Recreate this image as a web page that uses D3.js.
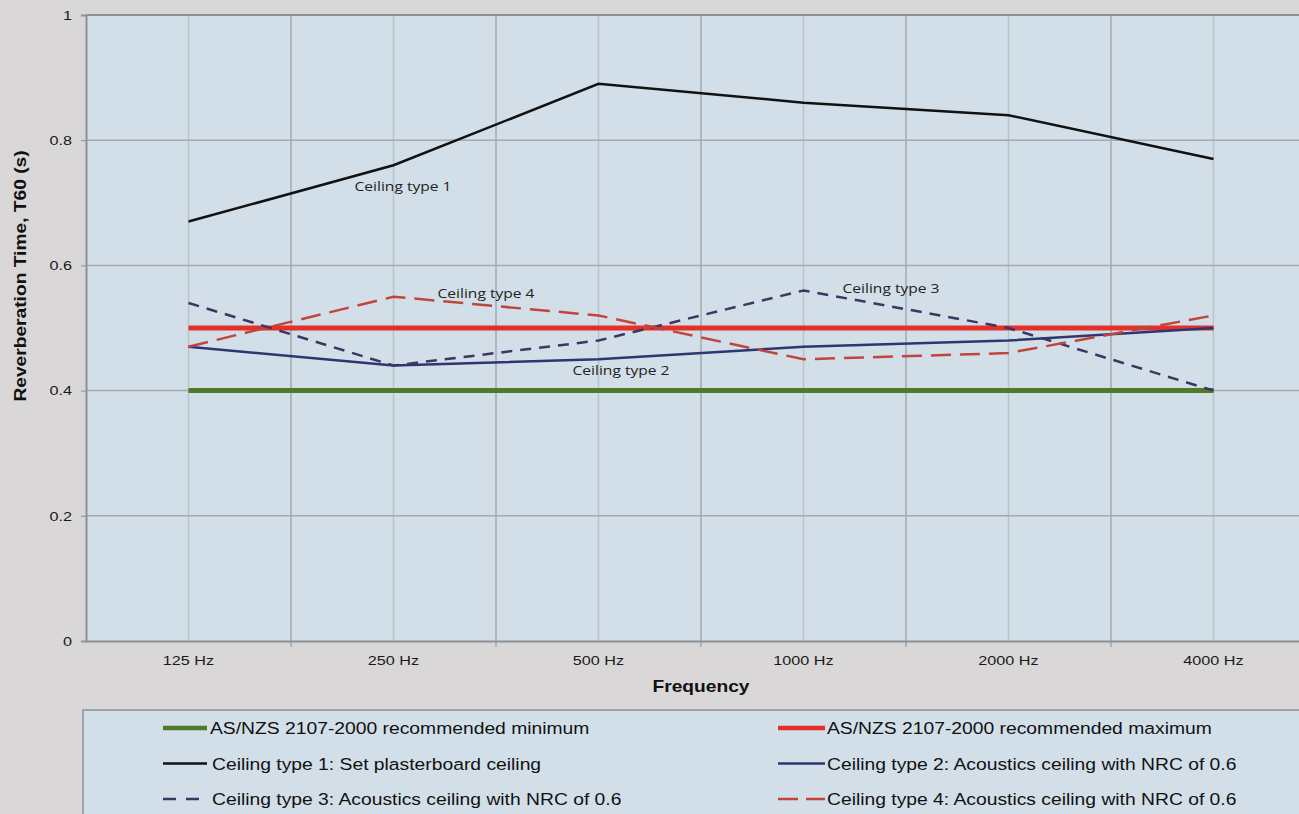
<!DOCTYPE html>
<html>
<head>
<meta charset="utf-8">
<script src="https://cdn.jsdelivr.net/npm/d3@7"></script>
<style>
  html, body { margin: 0; padding: 0; background: #d9d7d7; }
  svg { display: block; font-family: "Liberation Sans", Arial, sans-serif; }
</style>
</head>
<body>
<svg id="chart" width="1299" height="814"></svg>
<script>
// data
var frequencies = ["125 Hz", "250 Hz", "500 Hz", "1000 Hz", "2000 Hz", "4000 Hz"];
var minimumValues = [0.40, 0.40, 0.40, 0.40, 0.40, 0.40];
var maximumValues = [0.50, 0.50, 0.50, 0.50, 0.50, 0.50];
var ceiling1 = [0.67, 0.76, 0.89, 0.86, 0.84, 0.77];
var ceiling2 = [0.47, 0.44, 0.45, 0.47, 0.48, 0.50];
var ceiling3 = [0.54, 0.44, 0.48, 0.56, 0.50, 0.40];
var ceiling4 = [0.47, 0.55, 0.52, 0.45, 0.46, 0.52];
var yTicks = [0, 0.2, 0.4, 0.6, 0.8, 1];

var series = [
  { name: "AS/NZS 2107-2000 recommended minimum", values: minimumValues, color: "#4f7a2a", width: 5, dash: null, key: null },
  { name: "AS/NZS 2107-2000 recommended maximum", values: maximumValues, color: "#e5302a", width: 5, dash: null, key: null },
  { name: "Ceiling type 1: Set plasterboard ceiling", values: ceiling1, color: "#111111", width: 2.5, dash: null, key: null },
  { name: "Ceiling type 2: Acoustics ceiling with NRC of 0.6", values: ceiling2, color: "#2d3572", width: 2.5, dash: null, key: null },
  { name: "Ceiling type 3: Acoustics ceiling with NRC of 0.6", values: ceiling3, color: "#3d3563", width: 2.5, dash: "11,8", key: "13,10" },
  { name: "Ceiling type 4: Acoustics ceiling with NRC of 0.6", values: ceiling4, color: "#c0463d", width: 2.5, dash: "20,9", key: "20,8" }
];

var labels = [
  { text: "Ceiling type 1", x: 403, y: 191 },
  { text: "Ceiling type 4", x: 486, y: 298 },
  { text: "Ceiling type 3", x: 891, y: 293 },
  { text: "Ceiling type 2", x: 621, y: 375 }
];

var stretch = 1.2;   // the original's text is drawn a little wide

var svg = d3.select("#chart");
var plotLeft = 86, plotTop = 15, plotBottom = 641, step = 205;

var x = d3.scaleBand().domain(frequencies).range([plotLeft, plotLeft + step * frequencies.length]);
var y = d3.scaleLinear().domain([0, 1]).range([plotBottom, plotTop]);

// plot area
svg.append("rect")
  .attr("x", plotLeft).attr("y", plotTop)
  .attr("width", x.range()[1] - plotLeft).attr("height", plotBottom - plotTop)
  .attr("fill", "#d2dfe8");

// gridlines: light at category centres, darker at boundaries
svg.append("g").selectAll("line").data(frequencies).join("line")
  .attr("x1", function(d) { return x(d) + x.bandwidth() / 2; })
  .attr("x2", function(d) { return x(d) + x.bandwidth() / 2; })
  .attr("y1", plotTop).attr("y2", plotBottom)
  .attr("stroke", "#b9c3cb").attr("stroke-width", 1.5);

svg.append("g").selectAll("line").data(frequencies.slice(1)).join("line")
  .attr("x1", function(d) { return x(d); })
  .attr("x2", function(d) { return x(d); })
  .attr("y1", plotTop).attr("y2", plotBottom + 6)
  .attr("stroke", "#a2a9b0").attr("stroke-width", 1.5);

svg.append("g").selectAll("line").data(yTicks.slice(1, -1)).join("line")
  .attr("x1", plotLeft).attr("x2", x.range()[1])
  .attr("y1", function(d) { return y(d); })
  .attr("y2", function(d) { return y(d); })
  .attr("stroke", "#a2a9b0").attr("stroke-width", 1.5);

// frame
svg.append("line").attr("x1", plotLeft).attr("x2", x.range()[1]).attr("y1", plotTop).attr("y2", plotTop)
  .attr("stroke", "#8b9197").attr("stroke-width", 2);

// axes
var yAxis = d3.axisLeft(y).tickValues(yTicks).tickSize(5).tickPadding(8)
  .tickFormat(function(d) { return d === 0 || d === 1 ? d : d3.format(".1f")(d); });
var gy = svg.append("g").attr("transform", "translate(" + plotLeft + ",0)").call(yAxis);
gy.select(".domain").attr("stroke", "#8b9197").attr("stroke-width", 2);
gy.selectAll(".tick line").attr("stroke", "#8b9197");
gy.selectAll("text")
  .attr("x", -14 / stretch)
  .attr("transform", "scale(" + stretch + ",1)")
  .attr("fill", "#1a1a1a").style("font-size", "13.5px");

var xAxis = d3.axisBottom(x).tickSize(0).tickPadding(14);
var gx = svg.append("g").attr("transform", "translate(0," + plotBottom + ")").call(xAxis);
gx.select(".domain").attr("stroke", "#8b9197").attr("stroke-width", 2);
gx.selectAll("text")
  .attr("transform", "scale(" + stretch + ",1)")
  .attr("fill", "#1a1a1a").style("font-size", "13.5px");

// axis titles
svg.append("text")
  .attr("transform", "translate(26,276) rotate(-90) scale(" + stretch + ",1)")
  .attr("text-anchor", "middle")
  .style("font-size", "16px").style("font-weight", "bold").attr("fill", "#111")
  .text("Reverberation Time, T60 (s)");

svg.append("text")
  .attr("transform", "translate(701,692) scale(" + stretch + ",1)")
  .attr("text-anchor", "middle")
  .style("font-size", "16px").style("font-weight", "bold").attr("fill", "#111")
  .text("Frequency");

// series lines
var line = d3.line()
  .x(function(d, i) { return x(frequencies[i]) + x.bandwidth() / 2; })
  .y(function(d) { return y(d); });

svg.append("g").selectAll("path").data(series).join("path")
  .attr("d", function(s) { return line(s.values); })
  .attr("fill", "none")
  .attr("stroke", function(s) { return s.color; })
  .attr("stroke-width", function(s) { return s.width; })
  .attr("stroke-dasharray", function(s) { return s.dash; });

// in-plot labels
svg.append("g").selectAll("text").data(labels).join("text")
  .attr("transform", function(d) { return "translate(" + d.x + "," + d.y + ") scale(" + stretch + ",1)"; })
  .attr("text-anchor", "middle")
  .style("font-family", "'Open Sans', sans-serif").style("font-size", "13px")
  .attr("fill", "#222")
  .text(function(d) { return d.text; });

// legend
var legend = svg.append("g");
legend.append("rect")
  .attr("x", 83).attr("y", 710).attr("width", 1240).attr("height", 120)
  .attr("fill", "#d2dfe8").attr("stroke", "#8b9197").attr("stroke-width", 1.5);

var item = legend.selectAll("g.item").data(series).join("g")
  .attr("class", "item")
  .attr("transform", function(s, i) {
    return "translate(" + (i % 2 === 0 ? 163 : 778) + "," + (728 + Math.floor(i / 2) * 35.5) + ")";
  });

item.append("line")
  .attr("x1", 0).attr("x2", function(s, i) { return i % 2 === 0 ? 44 : 47; })
  .attr("y1", 0).attr("y2", 0)
  .attr("stroke", function(s) { return s.color; })
  .attr("stroke-width", function(s) { return s.width === 5 ? 4.5 : 2.5; })
  .attr("stroke-dasharray", function(s) { return s.key; });

item.append("text")
  .attr("transform", function(s, i) {
    var tx = i % 2 === 0 ? (i === 0 ? 47 : 49) : 49;
    return "translate(" + tx + ",6) scale(1.17,1)";
  })
  .style("font-size", "16.5px").attr("fill", "#111")
  .text(function(s) { return s.name; });
</script>
</body>
</html>
